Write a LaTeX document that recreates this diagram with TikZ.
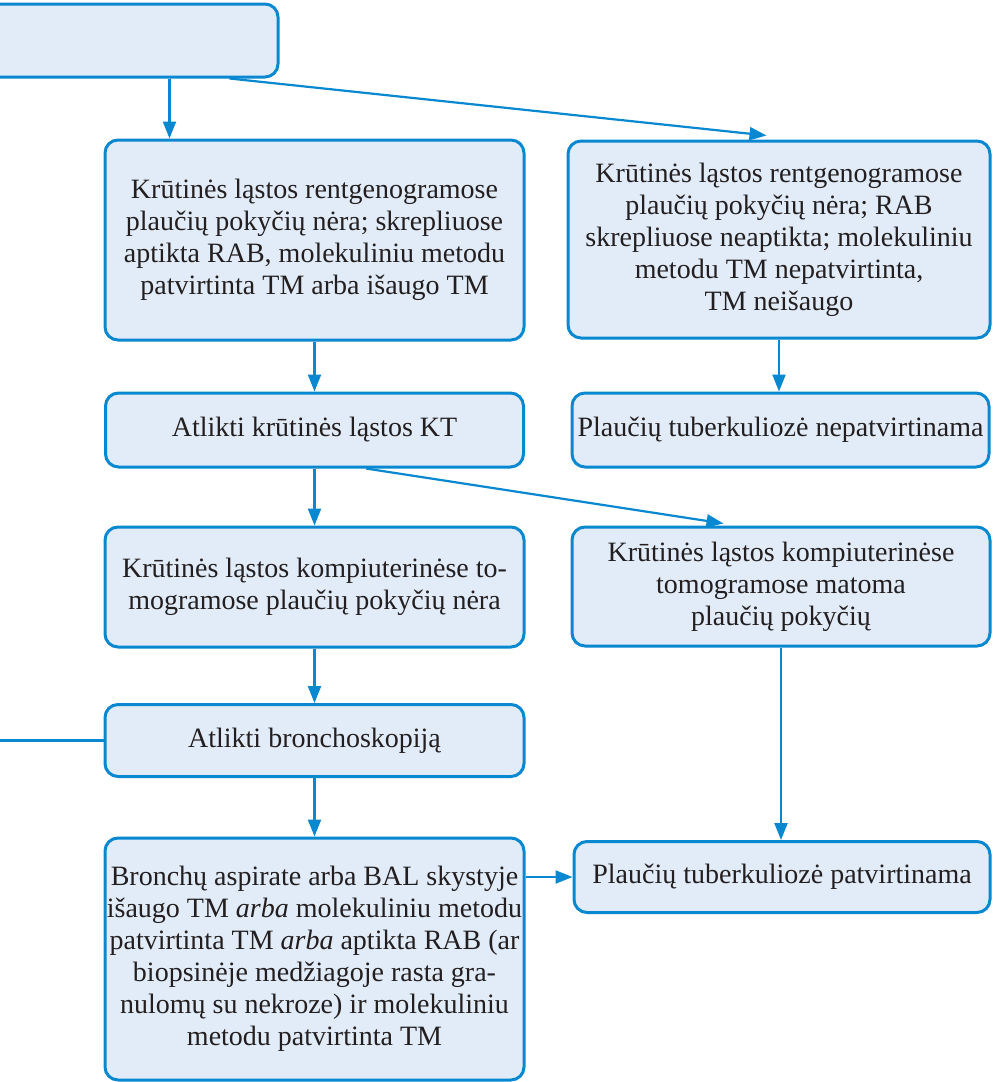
\documentclass[tikz,border=0pt]{standalone}
\usepackage{fontspec}
\setmainfont{Liberation Serif}
\usetikzlibrary{arrows.meta,calc}
\definecolor{bordblue}{RGB}{8,136,208}
\definecolor{fillblue}{RGB}{225,236,248}
\definecolor{txt}{RGB}{35,31,32}
\begin{document}
\begin{tikzpicture}[x=1pt,y=-1pt,
  box/.style={draw=bordblue, fill=fillblue, line width=3pt, rounded corners=13pt,
    align=center, inner sep=0pt, text=txt,
    font=\fontsize{28pt}{32pt}\selectfont},
  arr/.style={draw=bordblue, line width=2.2pt, -{Triangle[length=17pt,width=13pt]}},
  ln/.style={draw=bordblue, line width=2.2pt}]
\useasboundingbox (0,0) rectangle (994,1082);
\node[box, minimum width=298pt, minimum height=73pt] (T) at (129,40.5) {};
\node[box, minimum width=419pt, minimum height=200pt] (A) at (314.5,240)
  {Krūtinės ląstos rentgenogramose\\plaučių pokyčių nėra; skrepliuose\\aptikta RAB, molekuliniu metodu\\patvirtinta TM arba išaugo TM};
\node[box, minimum width=422pt, minimum height=197pt] (B) at (779,239.5)
  {Krūtinės ląstos rentgenogramose\\plaučių pokyčių nėra; RAB\\skrepliuose neaptikta; molekuliniu\\metodu TM nepatvirtinta,\\TM neišaugo};
\node[box, minimum width=418pt, minimum height=74pt] (C) at (314.5,430)
  {Atlikti krūtinės ląstos KT};
\node[box, minimum width=417pt, minimum height=74pt] (D) at (780.5,430)
  {Plaučių tuberkuliozė nepatvirtinama};
\node[box, minimum width=419pt, minimum height=120pt] (E) at (314.5,587)
  {Krūtinės ląstos kompiuterinėse to-\\mogramose plaučių pokyčių nėra};
\node[box, minimum width=418pt, minimum height=119pt] (F) at (781,586.5)
  {Krūtinės ląstos kompiuterinėse\\tomogramose matoma\\plaučių pokyčių};
\node[box, minimum width=419pt, minimum height=72pt] (G) at (314.5,740.5)
  {Atlikti bronchoskopiją};
\node[box, minimum width=419pt, minimum height=242pt] (H) at (314.5,959)
  {Bronchų aspirate arba BAL skystyje\\išaugo TM \textit{arba} molekuliniu metodu\\patvirtinta TM \textit{arba} aptikta RAB (ar\\biopsinėje medžiagoje rasta gra-\\nulomų su nekroze) ir molekuliniu\\metodu patvirtinta TM};
\node[box, minimum width=416pt, minimum height=71pt] (I) at (782,877)
  {Plaučių tuberkuliozė patvirtinama};
\coordinate (t1) at ($(T.south west)+(191,0)$);
\draw[arr] (t1) -- (t1 |- A.north);
\draw[arr] ($(T.south east)+(-50,0)$) -- ($(B.north west)+(200,-4)$);
\draw[arr] (A.south) -- (C.north);
\draw[arr] (B.south) -- (B.south |- D.north);
\draw[arr] (C.south) -- (E.north);
\draw[arr] ($(C.south west)+(262,0)$) -- ($(F.north west)+(153,-2)$);
\draw[arr] (E.south) -- (G.north);
\draw[arr] (G.south) -- (H.north);
\draw[arr] (F.south) -- (F.south |- I.north);
\draw[arr] (H.east |- I.west) -- (I.west);
\coordinate (L) at (-5,740.5);
\draw[ln] (L) -- (G.west);
\end{tikzpicture}
\end{document}
